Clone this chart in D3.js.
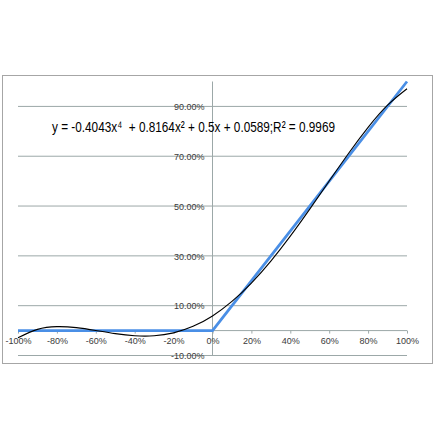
<!DOCTYPE html>
<html>
<head>
<meta charset="utf-8">
<script src="https://cdn.jsdelivr.net/npm/d3@7"></script>
<style>
html,body{margin:0;padding:0;background:#fff;}
svg{display:block;}
</style>
</head>
<body>
<script>
// Data
const xTicks = [-1, -0.8, -0.6, -0.4, -0.2, 0, 0.2, 0.4, 0.6, 0.8, 1];
const xTickLabels = ["-100%","-80%","-60%","-40%","-20%","0%","20%","40%","60%","80%","100%"];
const yTicks = [-0.1, 0.1, 0.3, 0.5, 0.7, 0.9];
const yTickLabels = ["-10.00%","10.00%","30.00%","50.00%","70.00%","90.00%"];
const seriesX = [-1, -0.5, 0, 0.5, 1];
const seriesY = [0, 0, 0, 0.5, 1];
const trendX = [-1,-0.9,-0.8,-0.7,-0.6,-0.5,-0.4,-0.3,-0.2,-0.1,0,0.1,0.2,0.3,0.4,0.5,0.6,0.7,0.8,0.9,1];
const trendY = [-0.029,0.0049,0.0158,0.0119,0.0004,-0.0123,-0.0208,-0.0209,-0.0091,0.017,0.0589,0.117,0.1909,0.2791,0.3792,0.4877,0.6004,0.7119,0.8158,0.9049,0.971];
const equationText = "y = -0.4043x\u2074  + 0.8164x\u00B2 + 0.5x + 0.0589;R\u00B2 = 0.9969";

const W = 436, H = 436;
const svg = d3.select("body").append("svg").attr("width", W).attr("height", H);

// chart border
svg.append("rect").attr("x", 2.5).attr("y", 75.5).attr("width", 430).attr("height", 288)
  .attr("fill", "#fff").attr("stroke", "#a6a6a6").attr("stroke-width", 1);

const x = d3.scaleLinear().domain([-1, 1]).range([18, 407]);
const y = d3.scaleLinear().domain([-0.1, 1]).range([355.5, 81.5]);

const gridColor = "#9ca8a8";
const labelFont = "'Liberation Sans Narrow','Arial Narrow','Liberation Sans',sans-serif";

// gridlines
svg.append("g").selectAll("line").data(yTicks).join("line")
  .attr("x1", x(-1)).attr("x2", x(1))
  .attr("y1", d => y(d)).attr("y2", d => y(d))
  .attr("stroke", gridColor).attr("stroke-width", 1);

// y axis (at x=0)
const yAxis = d3.axisLeft(y).tickValues(yTicks).tickSize(0).tickFormat((d,i) => yTickLabels[i]);
const gy = svg.append("g").attr("transform", `translate(${x(0)},0)`).call(yAxis);
gy.select(".domain").attr("stroke", gridColor).attr("d", `M0,${y(1)}V${y(-0.1)}`);
gy.selectAll("text").attr("font-family", labelFont).attr("font-size", 9)
  .attr("fill", "#3a3a3a").attr("x", -8).attr("dy", "0.35em");

// x axis (at y=0)
const xAxis = d3.axisBottom(x).tickValues(xTicks).tickSize(3).tickFormat((d,i) => xTickLabels[i]);
const gx = svg.append("g").attr("transform", `translate(0,${y(0)})`).call(xAxis);
gx.select(".domain").attr("stroke", gridColor).attr("d", `M${x(-1)},0H${x(1)}`);
gx.selectAll(".tick line").attr("stroke", gridColor);
gx.selectAll("text").attr("font-family", labelFont).attr("font-size", 9)
  .attr("fill", "#3a3a3a").attr("y", 10).attr("dy", "0.4em");

// series (blue)
const lineGen = d3.line().x(d => x(d[0])).y(d => y(d[1]));
svg.append("path").datum(seriesX.map((v,i) => [v, seriesY[i]]))
  .attr("d", lineGen).attr("fill", "none").attr("stroke", "#4a8fe6").attr("stroke-width", 2.75)
  .attr("stroke-linejoin", "round");

// trendline (black)
const trendGen = d3.line().x(d => x(d[0])).y(d => y(d[1])).curve(d3.curveNatural);
svg.append("path").datum(trendX.map((v,i) => [v, trendY[i]]))
  .attr("d", trendGen).attr("fill", "none").attr("stroke", "#000").attr("stroke-width", 1.1);

// equation label
svg.append("text").attr("x", 52).attr("y", 131.5)
  .attr("font-family", "'Liberation Sans Narrow','Liberation Sans',sans-serif")
  .attr("font-size", 15.5).attr("fill", "#000")
  .attr("textLength", 283).attr("lengthAdjust", "spacingAndGlyphs")
  .style("white-space", "pre")
  .text(equationText);
</script>
</body>
</html>
